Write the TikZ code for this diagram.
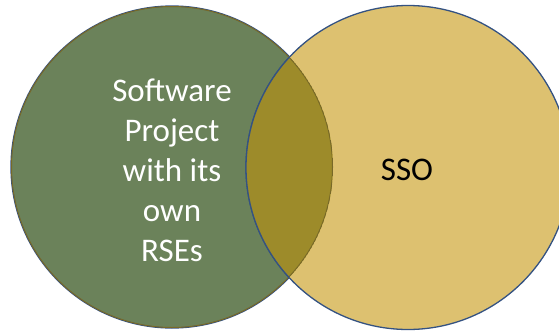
\documentclass[tikz,border=0pt]{standalone}
\usepackage{fontspec}
\setmainfont{Carlito}
\definecolor{leafgreen}{RGB}{107,130,90}
\definecolor{sand}{RGB}{221,193,112}
\definecolor{olive}{RGB}{157,139,42}
\definecolor{rim}{RGB}{52,82,130}
\definecolor{rimdark}{RGB}{120,105,40}
\tikzset{
  setcircle/.style={circle, minimum size=322pt, inner sep=0pt, line width=1.3pt, draw=rim},
  bigtext/.style={align=center, font=\fontsize{33}{40}\selectfont}
}
\begin{document}
\begin{tikzpicture}[x=1pt,y=-1pt]
\useasboundingbox (0,0) rectangle (559,335);
\begin{scope}
\clip (0,0) rectangle (559,335);
\node[setcircle, fill=leafgreen] (left) at (172,167) {};
\node[setcircle, fill=sand, minimum size=324pt] (right) at (408,167.5) {};
\begin{scope}
\clip (172,167) circle (161pt);
\fill[olive] (408,167.5) circle (162pt);
\draw[rimdark, line width=1pt] (172,167) circle (160.5pt);
\draw[rim, line width=1.3pt] (408,167.5) circle (162pt);
\end{scope}
\end{scope}
\node[bigtext, text=white] (sw) at (172,170) {Software\\Project\\with its\\own\\RSEs};
\node[bigtext, text=black] (sso) at (407,170) {SSO};
\end{tikzpicture}
\end{document}
